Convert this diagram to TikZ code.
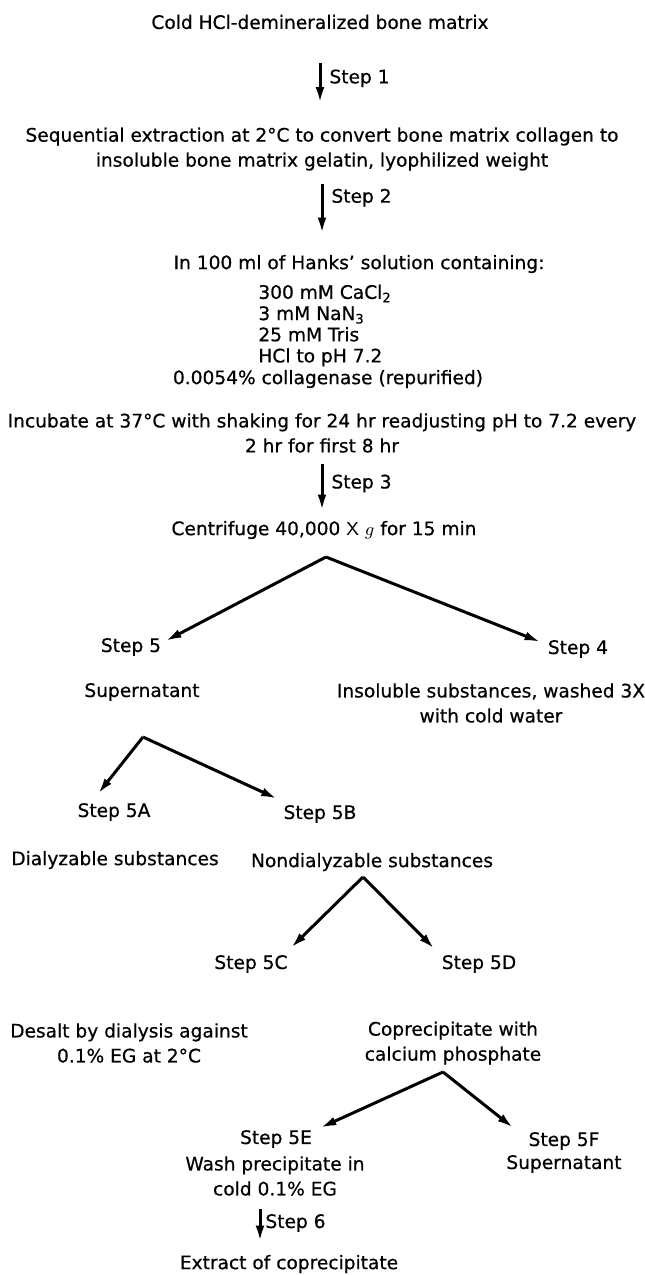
\documentclass[tikz,border=0pt]{standalone}
\usepackage{fontspec}
\setmainfont{DejaVu Sans}[FakeBold=0.6]
\usepackage{tikz}
\usetikzlibrary{arrows.meta, positioning, calc}

\begin{document}
\begin{tikzpicture}[
    x=0.5pt, y=-0.5pt,
    font=\fontsize{9.3}{12.5}\selectfont,
    >={Latex[length=8pt, width=4.4pt]},
    txt/.style={inner sep=0pt, align=center},
    steplbl/.style={inner sep=0pt},
    flow/.style={->, line width=1.5pt}
]
    \useasboundingbox (0,0) rectangle (644,1275);

    % Extraction
    \node[txt] (bone) at (320,22) {Cold HCl-demineralized bone matrix};
    \node[txt] (gel) at (322,149) {Sequential extraction at 2°C to convert bone matrix collagen to\\insoluble bone matrix gelatin, lyophilized weight};
    \draw[flow, shorten <=16.5pt, shorten >=12pt] (bone.south) -- node[steplbl, right=4pt, pos=.5] {Step 1} (bone.south |- gel.north);

    % Digestion
    \node[txt] (hanks) at (359,264) {In 100 ml of Hanks' solution containing:};
    \node[txt, align=left, anchor=west, font=\fontsize{9.3}{10.6}\selectfont] (salts) at (258,325.5) {300 mM CaCl\textsubscript{2}\\3 mM NaN\textsubscript{3}\\25 mM Tris\\HCl to pH 7.2};
    \node[txt] (coll) at (328,379) {0.0054\% collagenase (repurified)};
    \node[txt] (incub) at (322,433) {Incubate at 37°C with shaking for 24 hr readjusting pH to 7.2 every\\2 hr for first 8 hr};
    \draw[flow, shorten <=6.5pt, shorten >=10.5pt] (gel.south) -- node[steplbl, right=4pt, pos=.32] {Step 2} (gel.south |- hanks.north);

    % Centrifugation
    \node[txt] (cent) at (324,530) {Centrifuge 40,000 \textsf{X} $g$ for 15 min};
    \draw[flow, shorten <=5.5pt, shorten >=5pt] (incub.south) -- node[steplbl, right=4pt, pos=.45] {Step 3} (incub.south |- cent.north);
    \coordinate (fork1) at (326,557);
    \node[txt] (s5) at (131,647) {Step 5};
    \node[txt] (s4) at (578,649) {Step 4};
    \draw[flow] (fork1) -- ([xshift=2pt, yshift=3pt]s5.east);
    \draw[flow] (fork1) -- ([xshift=-3.5pt, yshift=3.5pt]s4.west);
    \node[txt] (sup) at (142,692) {Supernatant};
    \node[txt] (insol) at (491,703) {Insoluble substances, washed 3X\\with cold water};

    % Dialysis
    \coordinate (fork2) at (143,737);
    \node[txt] (s5a) at (114,812) {Step 5A};
    \node[txt] (s5b) at (320,814) {Step 5B};
    \draw[flow] (fork2) -- ([xshift=-8pt, yshift=4.5pt]s5a.north);
    \draw[flow] (fork2) -- ([xshift=-3pt, yshift=3pt]s5b.north west);
    \node[txt] (dial) at (115,860) {Dialyzable substances};
    \node[txt] (nondial) at (372,862) {Nondialyzable substances};

    \coordinate (fork3) at (363,877);
    \node[txt] (s5c) at (251,964) {Step 5C};
    \node[txt] (s5d) at (479,964) {Step 5D};
    \draw[flow] (fork3) -- ([xshift=1.5pt, yshift=3.5pt]s5c.north east);
    \draw[flow] (fork3) -- ([xshift=-3.5pt, yshift=3pt]s5d.north west);
    \node[txt] (desalt) at (129,1043) {Desalt by dialysis against\\0.1\% EG at 2°C};
    \node[txt] (coprec) at (453,1043) {Coprecipitate with\\calcium phosphate};

    % Coprecipitate
    \coordinate (fork4) at (443,1072);
    \node[txt] (s5e) at (276,1139) {Step 5E};
    \node[txt] (s5f) at (564,1141) {Step 5F};
    \draw[flow] (fork4) -- ([xshift=4pt, yshift=1pt]s5e.north east);
    \draw[flow] (fork4) -- ([xshift=-7.5pt, yshift=2pt]s5f.north west);
    \node[txt] (wash) at (275,1176) {Wash precipitate in\\cold 0.1\% EG};
    \node[txt] (sup2) at (564,1164) {Supernatant};
    \node[txt] (extract) at (289,1264) {Extract of coprecipitate};
    \draw[flow, shorten <=6.5pt, shorten >=6.5pt] ([xshift=-7.5pt]wash.south) -- node[steplbl, right=2pt, pos=.46] {Step 6} ([xshift=-7.5pt]wash.south |- extract.north);
\end{tikzpicture}
\end{document}
